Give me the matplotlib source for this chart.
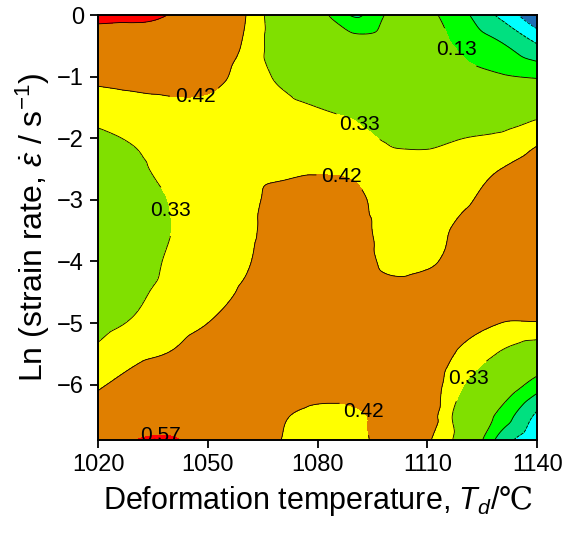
import numpy as np
import matplotlib
matplotlib.use('Agg')
import matplotlib.pyplot as plt
import matplotlib.tri as mtri
from matplotlib.colors import ListedColormap, BoundaryNorm

# deformation temperature (C) and ln(strain rate) grid nodes
temps = [1020, 1030, 1040, 1050, 1060, 1070, 1080, 1090, 1100, 1110, 1120, 1130, 1140]
ln_rates = [0, -0.5, -1, -1.5, -2, -2.5, -3, -3.5, -4, -4.5, -5, -5.5, -6, -6.5, -6.9]

# power dissipation efficiency, one list per strain-rate row
eta_r00 = [0.60, 0.59, 0.565, 0.50, 0.425, 0.25, 0.17, 0.02, 0.15, 0.15, 0.05, -0.09, -0.27]
eta_r05 = [0.50, 0.51, 0.51, 0.48, 0.41, 0.27, 0.25, 0.19, 0.20, 0.17, 0.11, 0.045, -0.06]
eta_r10 = [0.44, 0.45, 0.46, 0.45, 0.39, 0.31, 0.25, 0.22, 0.20, 0.20, 0.16, 0.14, 0.12]
eta_r15 = [0.375, 0.39, 0.40, 0.40, 0.38, 0.36, 0.33, 0.31, 0.28, 0.26, 0.24, 0.23, 0.28]
eta_r20 = [0.31, 0.34, 0.37, 0.38, 0.38, 0.37, 0.36, 0.35, 0.32, 0.31, 0.33, 0.35, 0.40]
eta_r25 = [0.27, 0.31, 0.36, 0.38, 0.39, 0.40, 0.41, 0.40, 0.35, 0.36, 0.39, 0.42, 0.46]
eta_r30 = [0.25, 0.28, 0.335, 0.38, 0.395, 0.45, 0.46, 0.45, 0.36, 0.38, 0.41, 0.45, 0.48]
eta_r35 = [0.24, 0.28, 0.33, 0.37, 0.40, 0.46, 0.48, 0.47, 0.37, 0.39, 0.44, 0.47, 0.48]
eta_r40 = [0.25, 0.28, 0.345, 0.38, 0.41, 0.47, 0.49, 0.48, 0.39, 0.405, 0.46, 0.48, 0.48]
eta_r45 = [0.26, 0.31, 0.36, 0.39, 0.43, 0.47, 0.50, 0.50, 0.46, 0.47, 0.48, 0.47, 0.46]
eta_r50 = [0.30, 0.34, 0.38, 0.42, 0.46, 0.49, 0.50, 0.50, 0.49, 0.48, 0.45, 0.42, 0.415]
eta_r55 = [0.35, 0.40, 0.425, 0.47, 0.49, 0.50, 0.50, 0.50, 0.50, 0.48, 0.40, 0.32, 0.25]
eta_r60 = [0.41, 0.45, 0.48, 0.50, 0.50, 0.48, 0.46, 0.47, 0.50, 0.47, 0.33, 0.22, 0.08]
eta_r65 = [0.46, 0.50, 0.53, 0.52, 0.48, 0.43, 0.40, 0.405, 0.45, 0.46, 0.26, 0.10, -0.09]
eta_r69 = [0.50, 0.569, 0.578, 0.53, 0.48, 0.42, 0.38, 0.39, 0.46, 0.43, 0.27, -0.01, -0.16]

levels = [-0.40, -0.17, -0.07, 0.03, 0.13, 0.33, 0.42, 0.57, 0.80]
band_colors = ['#1E6EB4', '#00FFFF', '#00E080', '#00FF00', '#80E000',
               '#FFFF00', '#E07F00', '#FF0000']

# where the contour labels sit: (level, (temperature, ln rate))
label_spots = [(0.42, (1046.5, -1.32)), (0.13, (1118, -0.57)), (0.33, (1092.4, -1.71)),
               (0.42, (1086.2, -2.7)), (0.33, (1040.5, -3.17)), (0.42, (1093.8, -6.34)),
               (0.33, (1123.6, -6.02)), (0.57, (1037, -6.75))]

plt.rcParams['font.family'] = ['Liberation Sans', 'Noto Sans CJK SC']
plt.rcParams['mathtext.fontset'] = 'custom'
plt.rcParams['mathtext.rm'] = 'Liberation Sans'
plt.rcParams['mathtext.it'] = 'Liberation Sans:italic'
plt.rcParams['mathtext.sf'] = 'DejaVu Serif'  # used only for the degree-Celsius sign

eta = np.array([eta_r00, eta_r05, eta_r10, eta_r15, eta_r20, eta_r25, eta_r30,
                eta_r35, eta_r40, eta_r45, eta_r50, eta_r55, eta_r60, eta_r65, eta_r69])
TT, YY = np.meshgrid(temps, ln_rates)

# smooth the coarse grid with a cubic interpolant before contouring
tri = mtri.Triangulation(TT.ravel(), YY.ravel())
interp = mtri.CubicTriInterpolator(tri, eta.ravel(), kind='geom')
xi = np.linspace(1020, 1140, 300)
yi = np.linspace(-6.9, 0, 300)
XI, YI = np.meshgrid(xi, yi)
ZI = interp(XI, YI)

fig = plt.figure(figsize=(5.65, 5.38), dpi=100)
ax = fig.add_axes([0.1735, 0.182, 0.7775, 0.79])

cmap = ListedColormap(band_colors)
norm = BoundaryNorm(levels, cmap.N)
ax.contourf(XI, YI, ZI, levels=levels, cmap=cmap, norm=norm)

# one line set per level so each label can be put on its own level
line_sets = {}
for lev in levels[1:-1]:
    line_sets[lev] = ax.contour(XI, YI, ZI, levels=[lev], colors='black', linewidths=0.6)

for lev, pos in label_spots:
    ax.clabel(line_sets[lev], manual=[pos], fmt='%.2f', fontsize=15, inline=True)
for cs in line_sets.values():
    for t in cs.labelTexts:
        t.set_rotation(0)

ax.set_xlim(1020, 1140)
ax.set_ylim(-6.9, 0)
ax.set_xticks([1020, 1050, 1080, 1110, 1140])
ax.set_yticks([0, -1, -2, -3, -4, -5, -6])
ax.tick_params(direction='out', length=6, width=1.3, labelsize=17, pad=4)
for sp in ax.spines.values():
    sp.set_linewidth(1.4)

ax.set_xlabel('Deformation temperature, $T_d$/$\\mathsf{\u2103}$', fontsize=22, labelpad=5)
ax.set_ylabel(r'Ln (strain rate, $\dot{\varepsilon}$ / s$^{-1}$)', fontsize=23, labelpad=4)

fig.savefig('out.png', dpi=100)
plt.close(fig)
